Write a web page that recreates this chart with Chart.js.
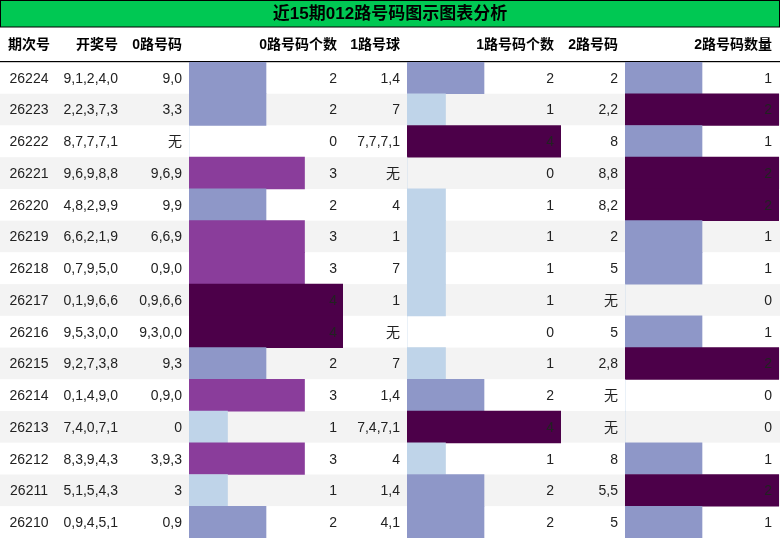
<!DOCTYPE html>
<html><head><meta charset="utf-8">
<script src="https://cdn.jsdelivr.net/npm/chart.js@4"></script>
<style>html,body{margin:0;padding:0;background:#fff}#w{width:780px;height:538px}</style>
</head><body><div id="w"><canvas id="c"></canvas></div>
<script>
const periods=["26224","26223","26222","26221","26220","26219","26218","26217","26216","26215","26214","26213","26212","26211","26210"];
const draws=["9,1,2,4,0","2,2,3,7,3","8,7,7,7,1","9,6,9,8,8","4,8,2,9,9","6,6,2,1,9","0,7,9,5,0","0,1,9,6,6","9,5,3,0,0","9,2,7,3,8","0,1,4,9,0","7,4,0,7,1","8,3,9,4,3","5,1,5,4,3","0,9,4,5,1"];
const route0=["9,0","3,3","无","9,6,9","9,9","6,6,9","0,9,0","0,9,6,6","9,3,0,0","9,3","0,9,0","0","3,9,3","3","0,9"];
const count0=[2,2,0,3,2,3,3,4,4,2,3,1,3,1,2];
const route1=["1,4","7","7,7,7,1","无","4","1","7","1","无","7","1,4","7,4,7,1","4","1,4","4,1"];
const count1=[2,1,4,0,1,1,1,1,0,1,2,4,1,2,2];
const route2=["2","2,2","8","8,8","8,2","2","5","无","5","2,8","无","无","8","5,5","5"];
const count2=[1,2,1,2,2,1,1,0,1,2,0,0,1,2,1];
const headers=["期次号","开奖号","0路号码","0路号码个数","1路号球","1路号码个数","2路号码","2路号码数量"];
const title="近15期012路号码图示图表分析";

const FONT='"Liberation Sans","Noto Sans CJK SC",sans-serif';
function colorFor(v,max){const r=v/max;return r<=0.25?'#bfd4e9':r<=0.5?'#8e97c8':r<=0.75?'#8a3d9b':'#4c0049';}
function ax(min,max,w){return {type:'linear',position:'bottom',stack:'cols',stackWeight:w,min,max,offset:false,
 grid:{display:false},border:{display:false},ticks:{display:false},afterFit:s=>{s.height=0;}};}

const tablePlugin={id:'tbl',
beforeDatasetsDraw(ch){const c=ch.ctx,y=ch.scales.y,W=ch.width;
 c.save();
 c.fillStyle='#00c853';c.fillRect(0,0,W,27);
 c.strokeStyle='#000';c.lineWidth=1;c.strokeRect(0.5,0.5,W-1,26.5);
 const h=(y.getPixelForValue(1)-y.getPixelForValue(0));
 periods.forEach((p,i)=>{const cy=y.getPixelForValue(i);c.fillStyle=i%2?'#f3f3f3':'#ffffff';c.fillRect(0,cy-h/2,W,h);});
 c.fillStyle='#000';c.fillRect(0,61,W,1.2);
 c.fillStyle='#000';c.font='bold 17px '+FONT;c.textAlign='center';c.textBaseline='middle';c.fillText(title,W/2,14);
 c.font='bold 14px '+FONT;
 const hx=[[29,'center'],[118,'right'],[182,'right'],[337,'right'],[400,'right'],[554,'right'],[618,'right'],[772,'right']];
 headers.forEach((t,k)=>{c.textAlign=hx[k][1];c.fillText(t,hx[k][0],45);});
 c.restore();},
afterDatasetsDraw(ch){const c=ch.ctx,y=ch.scales.y;c.save();c.font='14px '+FONT;c.fillStyle='#222';c.textBaseline='middle';
 periods.forEach((p,i)=>{const cy=y.getPixelForValue(i)+1;
  const cells=[[p,29,'center'],[draws[i],118,'right'],[route0[i],182,'right'],[String(count0[i]),337,'right'],[route1[i],400,'right'],[String(count1[i]),554,'right'],[route2[i],618,'right'],[String(count2[i]),772,'right']];
  cells.forEach(([t,x,a])=>{c.textAlign=a;c.fillText(t,x,cy);});});
 c.restore();}};

new Chart(document.getElementById('c'),{type:'bar',
data:{labels:periods,datasets:[
 {data:count0,xAxisID:'x0',backgroundColor:count0.map(v=>colorFor(v,4)),barPercentage:1,categoryPercentage:1,borderWidth:0},
 {data:count1,xAxisID:'x1',backgroundColor:count1.map(v=>colorFor(v,4)),barPercentage:1,categoryPercentage:1,borderWidth:0},
 {data:count2,xAxisID:'x2',backgroundColor:count2.map(v=>colorFor(v,2)),barPercentage:1,categoryPercentage:1,borderWidth:0}]},
options:{indexAxis:'y',responsive:true,maintainAspectRatio:false,animation:false,
 layout:{padding:{top:62,left:0,right:1,bottom:0}},
 plugins:{legend:{display:false},tooltip:{enabled:false}},
 datasets:{bar:{grouped:false}},
 scales:{y:{type:'category',display:false,offset:true,grid:{display:false}},
  xa:ax(0,1,189),x0:ax(0,4,154),xb:ax(0,1,64),x1:ax(0,4,154),xc:ax(0,1,64),x2:ax(0,2,154)}},
plugins:[tablePlugin]});
</script></body></html>
